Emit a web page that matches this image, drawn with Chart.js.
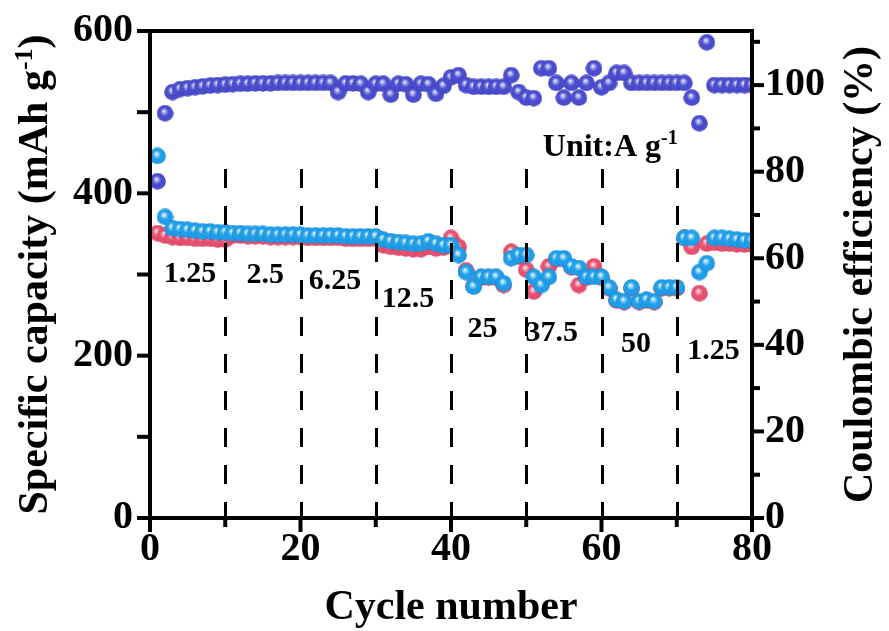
<!DOCTYPE html>
<html><head><meta charset="utf-8">
<script src="https://cdn.jsdelivr.net/npm/chart.js@4.4.1/dist/chart.umd.min.js"></script>
<style>
html,body{margin:0;padding:0;background:#ffffff;overflow:hidden;}
#box{width:889px;height:631px;}
</style></head>
<body><div id="box"><canvas id="chart" width="889" height="631"></canvas></div>
<script>
// ---------- data ----------
const cycles = [1,2,3,4,5,6,7,8,9,10,11,12,13,14,15,16,17,18,19,20,
  21,22,23,24,25,26,27,28,29,30,31,32,33,34,35,36,37,38,39,40,
  41,42,43,44,45,46,47,48,49,50,51,52,53,54,55,56,57,58,59,60,
  61,62,63,64,65,66,67,68,69,70,71,72,73,74,75,76,77,78,79,80];
const chargeCapacity = [351,348,346,345,345,344,344,344,343,343,
  348,348,347,347,347,346,346,346,346,346,
  345,345,345,345,345,344,344,344,344,344,
  336,334,333,332,331,331,334,332,333,345,
  334,305,286,296,296,296,287,328,322,306,
  279,289,310,319,319,309,287,296,310,296,
  283,268,266,283,266,268,266,283,283,283,
  345,334,277,338,339,338,338,337,337,337];
const dischargeCapacity = [446,371,357,356,355,354,353,353,352,352,
  351,351,350,350,350,349,349,349,349,349,
  348,348,348,348,348,347,347,347,347,347,
  343,341,340,339,338,338,341,338,336,336,
  324,303,285,297,297,297,289,320,324,324,
  297,287,297,320,320,310,308,297,297,297,
  284,269,267,284,267,269,267,284,284,284,
  345,345,303,314,345,345,344,343,342,342];
const coulombicEfficiency = [77.8,93.5,98.4,99.1,99.3,99.5,99.7,99.9,100.0,100.1,
  100.2,100.3,100.3,100.4,100.4,100.4,100.5,100.5,100.5,100.5,
  100.5,100.5,100.5,100.5,98.4,100.4,100.4,100.3,98.4,100.3,
  100.3,97.8,100.3,100.2,97.8,100.3,100.2,98.0,99.8,101.8,
  102.3,100.0,99.6,99.6,99.6,99.6,99.6,102.3,98.4,97.1,
  97.0,103.9,103.9,100.5,97.1,100.5,97.1,100.5,103.9,99.5,
  100.5,102.8,102.8,100.5,100.5,100.5,100.5,100.5,100.5,100.5,
  100.5,97.1,91.2,109.9,100.0,100.0,100.0,100.0,100.0,100.0];
const xTicks = [0,20,40,60,80];
const xMinorTicks = [10,30,50,70];
const capTicks = [0,200,400,600];
const capMinorTicks = [100,300,500];
const ceTicks = [0,20,40,60,80,100];
const ceMinorTicks = [10,30,50,70,90,110];
const rateBoundaries = [10,20,30,40,50,60,70];
const rateLabels = ['1.25','2.5','6.25','12.5','25','37.5','50','1.25'];
const unitLabel = ['Unit:A g','-1'];
const xTitle = 'Cycle number';
const yTitle = ['Specific capacity (mAh g','-1',')'];
const y2Title = 'Coulombic efficiency (%)';

// ---------- layout (positions in cycle / capacity units) ----------
const rateLabelPos = [[5.3,303],[15.3,302],[24.6,295],[34.3,273],[44.2,236],[53.4,231],[64.6,217],[74.9,208]];
const unitPos = [52.2,460];
const dashTop = 430;
const FONT = '"Liberation Serif", "Times New Roman", serif';

function sphere(base, light, dark, d) {
  const c = document.createElement('canvas'); c.width = c.height = d;
  const g = c.getContext('2d'); const r = d / 2;
  const gr = g.createRadialGradient(r * 0.85, r * 0.72, 0, r, r, r);
  gr.addColorStop(0, '#ffffff');
  gr.addColorStop(0.18, light);
  gr.addColorStop(0.5, base);
  gr.addColorStop(0.88, base);
  gr.addColorStop(1, dark);
  g.fillStyle = gr; g.beginPath(); g.arc(r, r, r - 0.2, 0, Math.PI * 2); g.fill();
  return c;
}

function drawRich(ctx, parts, x, y, rot, size, align) {
  ctx.save();
  ctx.translate(x, y); if (rot) ctx.rotate(rot);
  ctx.fillStyle = '#000'; ctx.textBaseline = 'alphabetic';
  const main = 'bold ' + size + 'px ' + FONT, sup = 'bold ' + Math.round(size * 0.62) + 'px ' + FONT;
  let total = 0; const w = [];
  parts.forEach((p, i) => { ctx.font = (i % 2 === 1) ? sup : main; const m = ctx.measureText(p).width; w.push(m); total += m; });
  let cx = align === 'left' ? 0 : -total / 2;
  parts.forEach((p, i) => {
    ctx.font = (i % 2 === 1) ? sup : main;
    ctx.fillText(p, cx, (i % 2 === 1) ? -size * 0.36 + size * 0.34 : size * 0.34);
    cx += w[i];
  });
  ctx.restore();
}

const decor = {
  id: 'decor',
  afterDatasetsDraw(chart) {
    const {ctx, chartArea: a, scales} = chart;
    ctx.save();
    ctx.strokeStyle = '#000'; ctx.lineWidth = 3; ctx.setLineDash([19, 18]);
    const yt = scales.y.getPixelForValue(dashTop);
    rateBoundaries.forEach(v => {
      const px = Math.round(scales.x.getPixelForValue(v)) + 0.5;
      ctx.beginPath(); ctx.moveTo(px, yt); ctx.lineTo(px, a.bottom); ctx.stroke();
    });
    ctx.restore();
  },
  afterDraw(chart) {
    const {ctx, chartArea: a, scales} = chart;
    ctx.save();
    ctx.strokeStyle = '#000'; ctx.lineWidth = 4; ctx.setLineDash([]);
    ctx.strokeRect(a.left, a.top, a.right - a.left, a.bottom - a.top);
    ctx.lineCap = 'butt';
    const tick = (x1, y1, x2, y2) => { ctx.beginPath(); ctx.moveTo(x1, y1); ctx.lineTo(x2, y2); ctx.stroke(); };
    xTicks.forEach(v => { const p = scales.x.getPixelForValue(v); tick(p, a.bottom, p, a.bottom + 14); });
    xMinorTicks.forEach(v => { const p = scales.x.getPixelForValue(v); tick(p, a.bottom, p, a.bottom + 9); });
    capTicks.concat(capMinorTicks).forEach(v => { const p = scales.y.getPixelForValue(v); tick(a.left, p, a.left - 13, p); });
    ceTicks.forEach(v => { const p = scales.y2.getPixelForValue(v); tick(a.right, p, a.right + 12, p); });
    ceMinorTicks.forEach(v => { const p = scales.y2.getPixelForValue(v); tick(a.right, p, a.right + 8, p); });
    ctx.restore();
    rateLabels.forEach((t, i) => {
      const [cx, cy] = rateLabelPos[i];
      drawRich(ctx, [t], scales.x.getPixelForValue(cx), scales.y.getPixelForValue(cy), 0, 30, 'center');
    });
    drawRich(ctx, unitLabel, scales.x.getPixelForValue(unitPos[0]), scales.y.getPixelForValue(unitPos[1]), 0, 32, 'left');
    drawRich(ctx, [xTitle], (a.left + a.right) / 2, 605, 0, 42, 'center');
    drawRich(ctx, yTitle, 33, (a.top + a.bottom) / 2, -Math.PI / 2, 42, 'center');
    drawRich(ctx, [y2Title], 858, (a.top + a.bottom) / 2, -Math.PI / 2, 42, 'center');
  }
};

function noPadV(s) { s.paddingTop = 0; s.paddingBottom = 0; }

function build() {
  const blue = sphere('#1e9de8', '#a6dcfb', '#1478c0', 17);
  const pink = sphere('#e6506e', '#f7b3c2', '#c23656', 17);
  const purple = sphere('#4a4cce', '#b4b6f2', '#3234a6', 17);
  const clip = {left: 20, top: 20, right: 0, bottom: 20};
  const tickFont = {family: FONT, size: 40, weight: 'bold'};
  new Chart(document.getElementById('chart'), {
    type: 'scatter',
    data: {
      datasets: [
        {label: 'Coulombic efficiency', data: cycles.map((c, i) => ({x: c, y: coulombicEfficiency[i]})), yAxisID: 'y2', pointStyle: purple, pointRadius: 8.5, clip},
        {label: 'Discharge capacity', data: cycles.map((c, i) => ({x: c, y: dischargeCapacity[i]})), yAxisID: 'y', pointStyle: blue, pointRadius: 8.5, clip},
        {label: 'Charge capacity', data: cycles.map((c, i) => ({x: c, y: chargeCapacity[i]})), yAxisID: 'y', pointStyle: pink, pointRadius: 8.5, clip}
      ]
    },
    options: {
      responsive: false, animation: false, devicePixelRatio: 1,
      layout: {padding: {top: 31, left: 0, right: 0, bottom: 0}},
      plugins: {legend: {display: false}, tooltip: {enabled: false}},
      events: [],
      scales: {
        x: {type: 'linear', position: 'bottom', min: 0, max: 80,
          grid: {display: false, drawTicks: false}, border: {display: false},
          ticks: {font: tickFont, color: '#000', padding: 8, maxRotation: 0, autoSkip: false},
          afterBuildTicks(s) { s.ticks = xTicks.map(v => ({value: v})); },
          afterFit(s) { s.height = 113; s.paddingLeft = 0; s.paddingRight = 0; }},
        y: {type: 'linear', position: 'left', min: 0, max: 600,
          grid: {display: false, drawTicks: false}, border: {display: false},
          ticks: {font: tickFont, color: '#000', padding: 17, autoSkip: false},
          afterBuildTicks(s) { s.ticks = capTicks.map(v => ({value: v})); },
          afterFit(s) { s.width = 150; noPadV(s); }},
        y2: {type: 'linear', position: 'right', min: 0, max: 112.5,
          grid: {display: false, drawTicks: false}, border: {display: false},
          ticks: {font: tickFont, color: '#000', padding: 13, autoSkip: false},
          afterBuildTicks(s) { s.ticks = ceTicks.map(v => ({value: v})); },
          afterFit(s) { s.width = 137; noPadV(s); }}
      }
    },
    plugins: [decor]
  });
}
if (document.fonts && document.fonts.load) {
  Promise.all([document.fonts.load('bold 34px "Liberation Serif"')]).then(build, build);
} else build();
</script>
</body></html>
